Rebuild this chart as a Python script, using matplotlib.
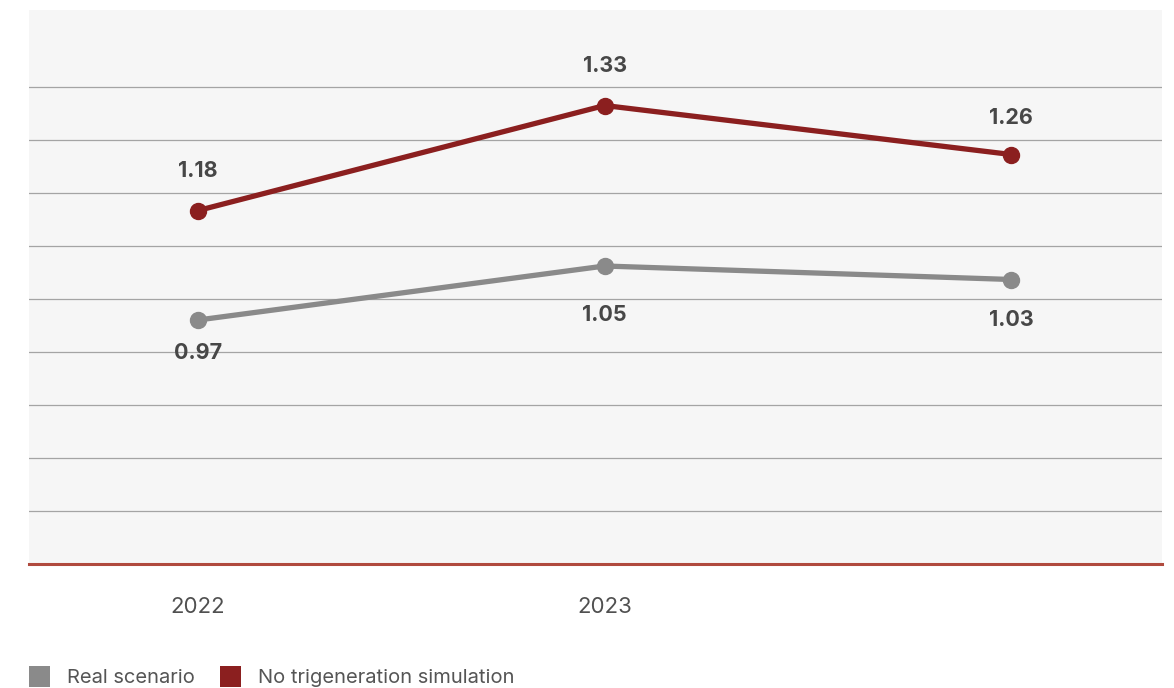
import matplotlib
matplotlib.use("Agg")
import matplotlib.pyplot as plt
from matplotlib.patches import Patch

# Data
years = ["2022", "2023", ""]
real_scenario = [0.97, 1.05, 1.03]
no_trigeneration = [1.18, 1.33, 1.26]
series_names = ["Real scenario", "No trigeneration simulation"]

# Styling
RED = "#8b1f1f"
GREY = "#8a8a8a"
BG = "#f6f6f6"
GRID = "#a4a4a4"
BASE = "#b04a3e"
LABEL = "#474747"
FONT = ["Inter", "DejaVu Sans"]

W, H = 1174, 688
fig = plt.figure(figsize=(W / 100, H / 100), dpi=100)
left, right, top, bottom = 29, 1162, 10, 564
rect = [left / W, (H - bottom) / H, (right - left) / W, (bottom - top) / H]
ax = fig.add_axes(rect)
ax2 = ax.twinx()

ax.set_facecolor(BG)
x = list(range(len(years)))
ax.set_xlim(-0.416, 2.371)

# red series scale
ax.set_ylim(0.675, 0.675 + 554 / 700)
# grey series scale
ax2.set_ylim(1.05 - 298 / 675, 1.05 + 256 / 675)

# horizontal grid lines
step = 53 / 700
for k in range(1, 10):
    ax.axhline(0.675 + step * k, color=GRID, lw=0.9, zorder=1)

ax.plot(x, no_trigeneration, color=RED, lw=3.8, marker="o", ms=11.5, zorder=3,
        solid_capstyle="round")
ax2.plot(x, real_scenario, color=GREY, lw=3.8, marker="o", ms=11.5, zorder=3,
         solid_capstyle="round")

red_dy = [40, 39, 36]
grey_dy = [-33, -49, -40]
for xi, v, dy in zip(x, no_trigeneration, red_dy):
    ax.annotate(f"{v:.2f}", (xi, v), xytext=(0, dy * 0.72), textcoords="offset points",
                ha="center", va="center", fontsize=15.5, fontweight="bold",
                color=LABEL, family=FONT)
for xi, v, dy in zip(x, real_scenario, grey_dy):
    ax2.annotate(f"{v:.2f}", (xi, v), xytext=(0, dy * 0.72), textcoords="offset points",
                 ha="center", va="center", fontsize=15.5, fontweight="bold",
                 color=LABEL, family=FONT)

for a in (ax, ax2):
    for s in a.spines.values():
        s.set_visible(False)
    a.tick_params(left=False, right=False, labelleft=False, labelright=False)
ax.spines["bottom"].set_visible(True)
ax.spines["bottom"].set_color(BASE)
ax.spines["bottom"].set_linewidth(2.2)

ax.set_xticks(x)
ax.set_xticklabels(years, fontsize=16, color="#505050", family=FONT)
ax.tick_params(axis="x", length=0, pad=24)

handles = [Patch(facecolor=GREY, edgecolor="none"), Patch(facecolor=RED, edgecolor="none")]
leg = fig.legend(handles, series_names, loc="lower left", bbox_to_anchor=(29 / W, 1 / H),
                 ncol=2, frameon=False, handlelength=1.04, handleheight=1.2,
                 handletextpad=0.85, columnspacing=1.25, borderpad=0, borderaxespad=0,
                 prop={"family": FONT, "size": 14.5})
for t in leg.get_texts():
    t.set_color("#555555")

fig.savefig("out.png", dpi=100, facecolor="white")
